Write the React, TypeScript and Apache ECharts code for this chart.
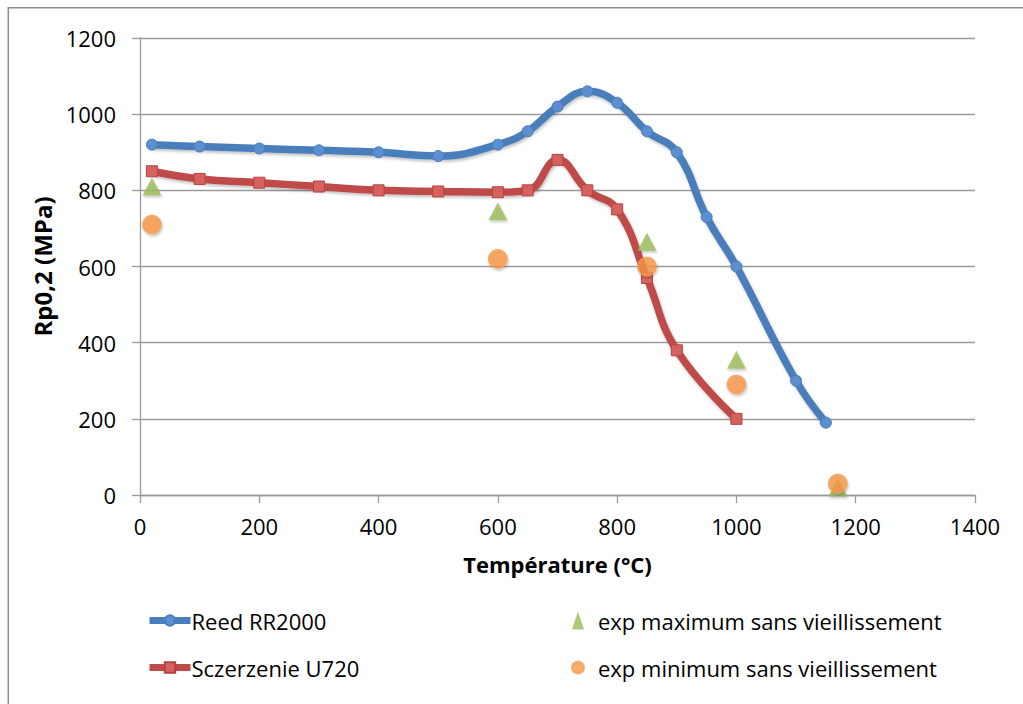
import React, { useEffect, useRef } from "react";
import * as echarts from "echarts";

const reedT = [20, 100, 200, 300, 400, 500, 600, 650, 700, 750, 800, 850, 900, 950, 1000, 1100, 1150];
const reedRp = [920, 915, 910, 905, 900, 890, 920, 955, 1020, 1060, 1030, 955, 900, 730, 600, 300, 190];
const u720T = [20, 100, 200, 300, 400, 500, 600, 650, 700, 750, 800, 850, 900, 1000];
const u720Rp = [850, 830, 820, 810, 800, 797, 795, 800, 880, 800, 750, 570, 380, 200];
const expT = [20, 600, 850, 1000, 1170];
const expMax = [810, 745, 665, 355, 20];
const expMin = [710, 620, 600, 290, 30];

const seriesNames = [
  "Reed RR2000",
  "Sczerzenie U720",
  "exp maximum sans vieillissement",
  "exp minimum sans vieillissement",
];

const FONT = "'Open Sans', 'DejaVu Sans', sans-serif";

const pairs = (xs: number[], ys: number[]) => xs.map((x, i) => [x, ys[i]]);

export default function App() {
  const ref = useRef<HTMLDivElement>(null);
  useEffect(() => {
    if (!ref.current) return;
    const chart = echarts.init(ref.current, undefined, { renderer: "svg" });
    const shadow = {
      shadowBlur: 3,
      shadowColor: "rgba(0,0,0,0.25)",
      shadowOffsetX: 1,
      shadowOffsetY: 2,
    };
    chart.setOption({
      animation: false,
      backgroundColor: "#ffffff",
      textStyle: { fontFamily: FONT },
      graphic: [
        {
          type: "rect",
          shape: { x: 8.3, y: 7.7, width: 1200, height: 900 },
          style: { fill: "none", stroke: "#8e8e8e", lineWidth: 1.5 },
          silent: true,
        },
      ],
      grid: { left: 140, top: 38, width: 835, height: 457 },
      xAxis: {
        type: "value",
        min: 0,
        max: 1400,
        interval: 200,
        name: "Température (°C)",
        nameLocation: "middle",
        nameGap: 58,
        nameTextStyle: { fontFamily: FONT, fontSize: 22, fontWeight: "bold", color: "#000" },
        axisLine: { show: true, lineStyle: { color: "#9a9a9a", width: 1.3 } },
        axisTick: { show: true, inside: false, length: 8, lineStyle: { color: "#9a9a9a", width: 1.3 } },
        axisLabel: { fontFamily: FONT, fontSize: 22, color: "#000", margin: 20, formatter: (v: number) => String(v) },
        splitLine: { show: false },
      },
      yAxis: {
        type: "value",
        min: 0,
        max: 1200,
        interval: 200,
        name: "Rp0,2 (MPa)",
        nameLocation: "middle",
        nameRotate: 90,
        nameGap: 84,
        nameTextStyle: { fontFamily: FONT, fontSize: 24, fontWeight: "bold", color: "#000" },
        axisLine: { show: true, lineStyle: { color: "#9a9a9a", width: 1.3 } },
        axisTick: { show: true, inside: false, length: 8, lineStyle: { color: "#9a9a9a", width: 1.3 } },
        axisLabel: { fontFamily: FONT, fontSize: 22, color: "#000", margin: 24, formatter: (v: number) => String(v) },
        splitLine: { show: true, lineStyle: { color: "#9a9a9a", width: 1.3 } },
      },
      legend: [
        {
          orient: "vertical",
          left: 141,
          top: 603,
          itemWidth: 41,
          itemHeight: 13,
          itemGap: 22,
          data: [seriesNames[0], seriesNames[1]],
          lineStyle: { width: 7 },
          textStyle: { fontFamily: FONT, fontSize: 22, color: "#000", lineHeight: 25, padding: [0, 0, 0, -4] },
        },
        {
          orient: "vertical",
          left: 566,
          top: 603,
          itemWidth: 12,
          itemHeight: 18,
          itemGap: 22,
          data: [seriesNames[2], seriesNames[3]],
          textStyle: { fontFamily: FONT, fontSize: 22, color: "#000", lineHeight: 25, padding: [0, 0, 0, 9] },
        },
      ],
      series: [
        {
          name: seriesNames[0],
          type: "line",
          smooth: 0.45,
          data: pairs(reedT, reedRp),
          symbol: "circle",
          symbolSize: 11,
          lineStyle: { color: "#4a7ebb", width: 7.5, ...shadow },
          itemStyle: { color: "#5b8fd2", borderColor: "#4a7ebb", borderWidth: 1 },
          z: 3,
        },
        {
          name: seriesNames[1],
          type: "line",
          smooth: 0.45,
          data: pairs(u720T, u720Rp),
          symbol: "rect",
          symbolSize: 11,
          lineStyle: { color: "#be4b48", width: 7.5, ...shadow },
          itemStyle: { color: "#d6625f", borderColor: "#b8413e", borderWidth: 1 },
          z: 3,
        },
        {
          name: seriesNames[2],
          type: "scatter",
          data: pairs(expT, expMax),
          symbol: "triangle",
          symbolSize: [19, 18],
          itemStyle: { color: "#9bbb59", ...shadow, shadowBlur: 2 },
          z: 4,
        },
        {
          name: seriesNames[3],
          type: "scatter",
          data: pairs(expT, expMin),
          symbol: "circle",
          symbolSize: 19,
          itemStyle: { color: "#f79646", borderColor: "#f3a25f", borderWidth: 1, ...shadow, shadowBlur: 2 },
          z: 5,
        },
      ],
    });
    return () => chart.dispose();
  }, []);
  return (
    <div
      ref={ref}
      style={{ position: "fixed", left: 0, top: 0, width: 1023, height: 704 }}
    />
  );
}
